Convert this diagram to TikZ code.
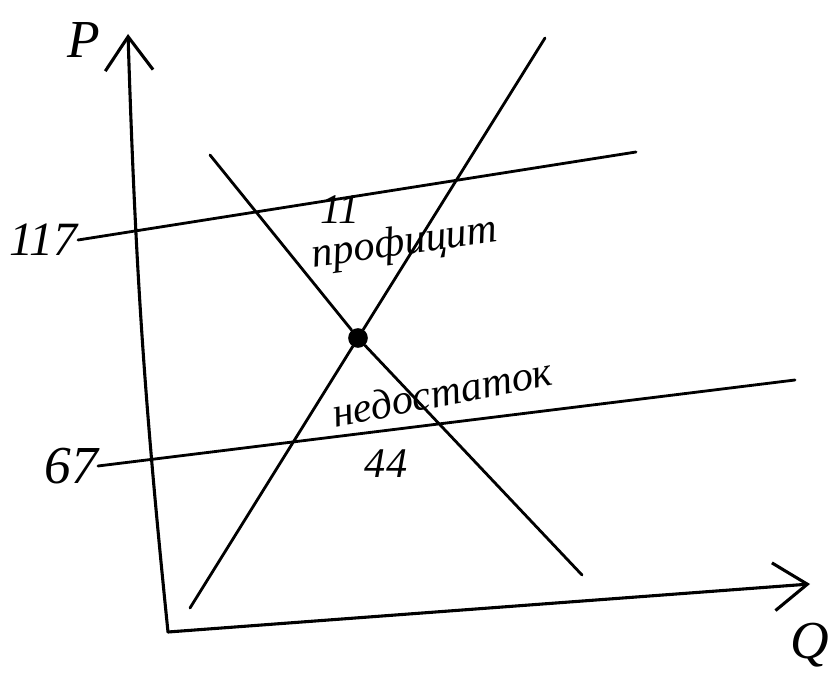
\documentclass[tikz,border=0pt]{standalone}
\usepackage{fontspec}
\setmainfont{Liberation Serif}
\usetikzlibrary{arrows.meta, positioning}
\definecolor{penInk}{HTML}{000000}

\begin{document}
\begin{tikzpicture}[x=0.025cm, y=-0.025cm, line cap=round, line join=round,
        axisline/.style={draw=penInk, line width=2.2pt, -{Straight Barb[length=24pt, width=34pt, line width=2.2pt]}},
        curve/.style={draw=penInk, line width=2pt},
        lbl/.style={text=penInk, font=\itshape\fontsize{30}{30}\selectfont, inner sep=0pt},
        big/.style={text=penInk, font=\itshape\fontsize{38}{38}\selectfont, inner sep=0pt}]
        \useasboundingbox (0,0) rectangle (840,674);
        % axes
        \coordinate (O) at (168,632);
        \coordinate (ptop) at (128,34);
        \coordinate (qend) at (810,584);
        \draw[axisline] (O) to[bend left=2] (ptop);
        \draw[axisline] (O) -- (qend);
        \node[big] (plab) at (84,40) {P};
        \node[big] (qlab) at (810,645) {Q};
        % price levels
        \node[big, anchor=east, font=\itshape\fontsize{34}{34}\selectfont] (hi) at (78,240) {117};
        \node[big, anchor=east] (lo) at (98,466) {67};
        \coordinate (hiend) at (636,152);
        \coordinate (loend) at (795,380);
        \draw[curve] (hi.east) -- (hiend);
        \draw[curve] (lo.east) -- (loend);
        % supply and demand
        \node[circle, fill=penInk, minimum size=14pt, inner sep=0pt] (eq) at (358,338) {};
        \coordinate (sbot) at (190,608);
        \coordinate (stop) at (545,38);
        \coordinate (dtop) at (210,155);
        \coordinate (dbot) at (582,575);
        \draw[curve] (sbot) -- (eq) -- (stop);
        \draw[curve] (dtop) -- (eq) -- (dbot);
        % gap labels
        \node[lbl] (surp) at (340,210) {11};
        \node[lbl, rotate=8] (surplab) at (405,244) {профицит};
        \node[lbl, rotate=11] (shortlab) at (442,392) {недостаток};
        \node[lbl] (short) at (386,464) {44};
      \end{tikzpicture}
\end{document}
